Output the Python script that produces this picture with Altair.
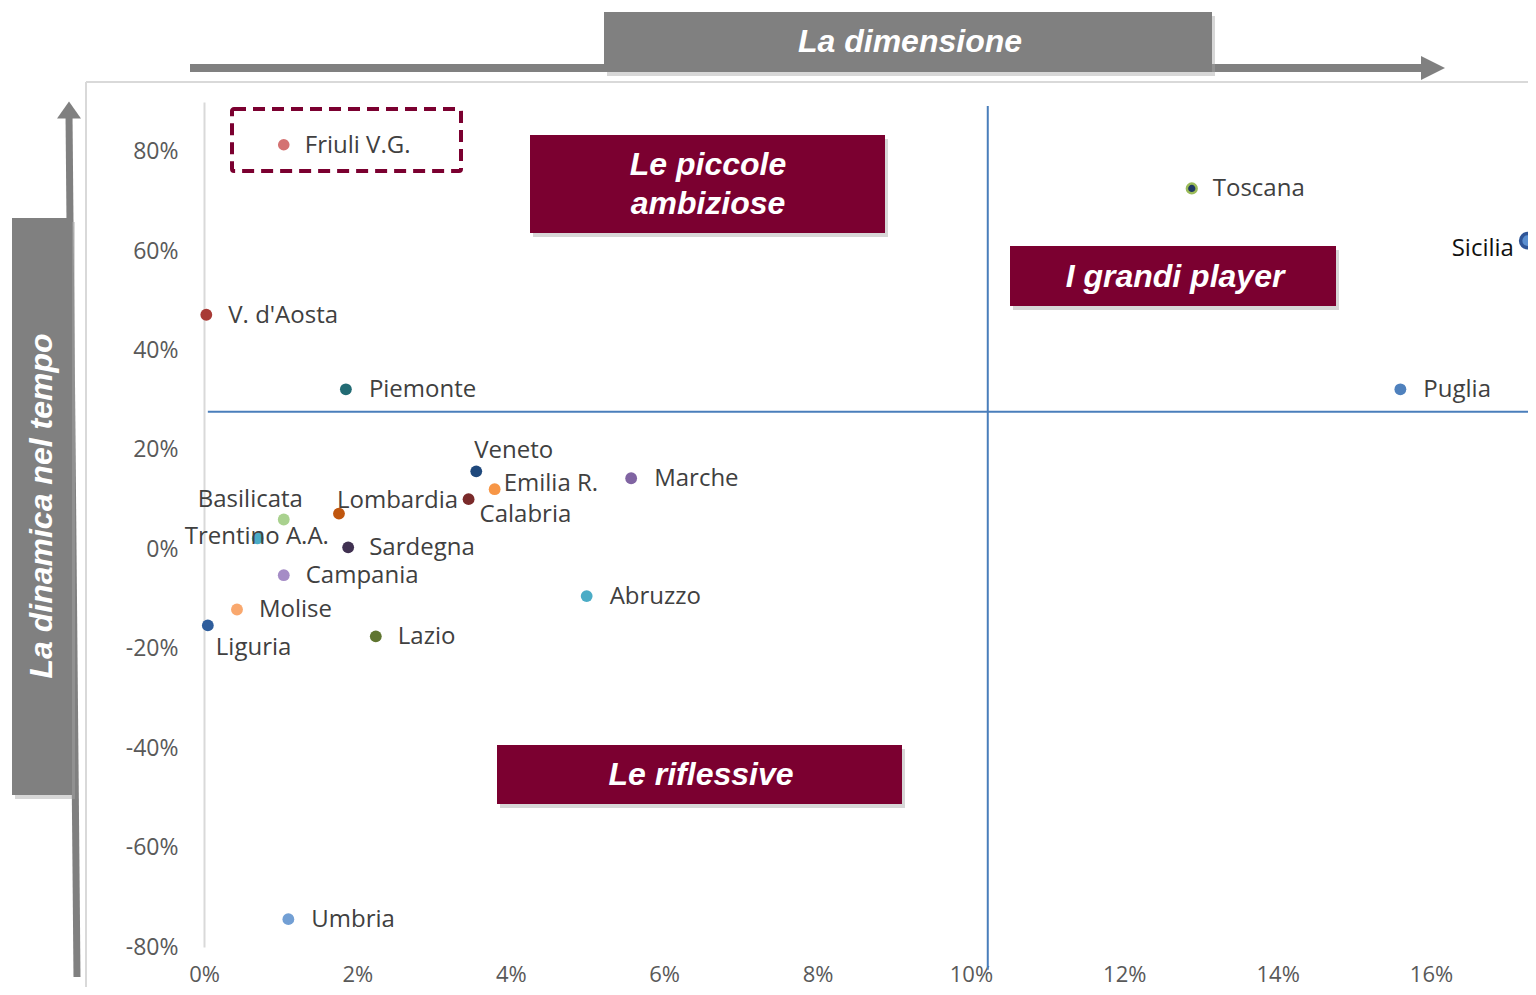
import altair as alt
import pandas as pd

# ---------------- data ----------------
regioni = ["Friuli V.G.", "Toscana", "Sicilia", "V. d'Aosta", "Piemonte", "Puglia", "Veneto",
           "Emilia R.", "Calabria", "Marche", "Lombardia", "Basilicata", "Trentino A.A.",
           "Sardegna", "Campania", "Abruzzo", "Molise", "Liguria", "Lazio", "Umbria"]
dimensione = [0.0104, 0.1288, 0.1726, 0.0003, 0.0185, 0.1560, 0.0355, 0.0379, 0.0345, 0.0557,
              0.0176, 0.0104, 0.0070, 0.0188, 0.0104, 0.0499, 0.0043, 0.0005, 0.0224, 0.0110]
dinamica = [0.814, 0.726, 0.621, 0.472, 0.322, 0.322, 0.157, 0.121, 0.101, 0.143,
            0.072, 0.060, 0.022, 0.004, -0.052, -0.094, -0.121, -0.153, -0.175, -0.744]
x_ticks = [0, 0.02, 0.04, 0.06, 0.08, 0.10, 0.12, 0.14, 0.16]
y_ticks = [-0.8, -0.6, -0.4, -0.2, 0, 0.2, 0.4, 0.6, 0.8]
soglia_dimensione = 0.1022
soglia_dinamica = 0.277
titolo_x = "La dimensione"
titolo_y = "La dinamica nel tempo"
quadranti = ["Le piccole", "ambiziose", "I grandi player", "Le riflessive"]

# ---------------- styles ----------------
fill_colors = ["#d47272", "#1f3864", "#5b8fd0", "#a83a36", "#226b74", "#4f81bd", "#1f487c",
               "#f79646", "#7a2a2a", "#8064a2", "#c0560e", "#a9d18e", "#4bacc6",
               "#403151", "#a58cc6", "#4bacc6", "#f9a86e", "#2e5d9c", "#5f7530", "#729fd4"]
stroke_colors = ["#d47272", "#9bbb59", "#2f5597", "#a83a36", "#226b74", "#4f81bd", "#1f487c",
                 "#f79646", "#7a2a2a", "#8064a2", "#c0560e", "#a9d18e", "#4bacc6",
                 "#403151", "#a58cc6", "#4bacc6", "#f9a86e", "#2e5d9c", "#5f7530", "#729fd4"]
stroke_widths = [0, 2.5, 3.5] + [0] * 17
point_sizes = [135, 95, 200] + [140] * 17
label_colors = ["#404040", "#404040", "#111111"] + ["#404040"] * 17
# label offsets (pixels from point to label's left edge / vertical centre)
label_dx = [21, 21, -76, 22, 23, 23, -2, 9, 11, 23, -2, -86, -73, 21, 22, 23, 22, 8, 22, 23]
label_dy = [1, 1, 8, 1, 1, 1, -20, -5, 16, 1, -13, -20, -1, 1, 1, 1, 1, 23, 1, 1]

W, H = 1324, 845
X_DOMAIN = [0, 1324 / 7669]
Y_DOMAIN = [-0.8, 0.9]
PX_X = W / (X_DOMAIN[1] - X_DOMAIN[0])
PX_Y = H / (Y_DOMAIN[1] - Y_DOMAIN[0])
OX, OY = 204, 102  # plot origin on the page
RIGHT = 1528

MAROON = "#7b0030"
GREY = "#808080"

pts = pd.DataFrame({
    "regione": regioni, "x": dimensione, "y": dinamica,
    "fill": fill_colors, "stroke": stroke_colors, "sw": stroke_widths, "size": point_sizes,
    "lc": label_colors, "ldx": label_dx, "ldy": label_dy,
})

x_axis = alt.Axis(values=x_ticks, labelExpr="round(datum.value*100) + '%'", domain=False,
                  ticks=False, grid=False, labelFont="Open Sans", labelFontSize=22,
                  labelColor="#595959", labelPadding=27, labelBaseline="middle",
                  labelFlush=False, labelOverlap=False, title=None)
y_axis = alt.Axis(values=y_ticks, labelExpr="round(datum.value*100) + '%'", domain=True,
                  domainColor="#d9d9d9", domainWidth=2, ticks=False, grid=False,
                  labelFont="Open Sans", labelFontSize=23, labelColor="#595959",
                  labelPadding=26, labelFlush=False, labelOverlap=False, title=None)
xs = alt.Scale(domain=X_DOMAIN, nice=False, zero=False)
ys = alt.Scale(domain=Y_DOMAIN, nice=False, zero=False)

# ---------------- decorations (page pixels) ----------------
def P(vx, vy):
    return vx - OX, vy - OY

boxes = [
    # x1, x2, y1, y2, fill
    (604, 1212, 12, 72, GREY),
    (12, 72, 218, 795, GREY),
    (530, 885, 135, 233, MAROON),
    (1010, 1336, 246, 306, MAROON),
    (497, 902, 745, 804, MAROON),
]
box_rows, shadow_rows = [], []
for x1, x2, y1, y2, f in boxes:
    a, b = P(x1, y1)
    c, d = P(x2, y2)
    box_rows.append({"px": a, "px2": c, "py": b, "py2": d, "fill": f})
    shadow_rows.append({"px": a + 3, "px2": c + 3, "py": b + 4, "py2": d + 4, "fill": "#a6a6a6"})
box_df = pd.DataFrame(box_rows)
shadow_df = pd.DataFrame(shadow_rows)

lines = [
    # x1, y1, x2, y2, colour, width
    (86, 82, RIGHT, 82, "#d9d9d9", 2),
    (86, 82, 86, 995, "#d9d9d9", 2),
    (190, 68, 1424, 68, GREY, 8),
    (69, 114, 77, 977, GREY, 7),
]
line_df = pd.DataFrame([
    dict(zip(["px", "py"], P(x1, y1))) | dict(zip(["px2", "py2"], P(x2, y2))) | {"col": c, "sw": w}
    for x1, y1, x2, y2, c, w in lines
])

heads = [
    (1433, 68, "M-1,-1L1,0L-1,1Z", 576),
    (69, 110, "M-1,0.7L0,-0.7L1,0.7Z", 576),
]
head_df = pd.DataFrame([
    dict(zip(["px", "py"], P(x, y))) | {"shape": s, "size": z} for x, y, s, z in heads
])

texts = [
    (910, 42, titolo_x, 0),
    (42, 506, titolo_y, 270),
    (708, 165, quadranti[0], 0),
    (708, 204, quadranti[1], 0),
    (1175, 277, quadranti[2], 0),
    (701, 775, quadranti[3], 0),
]
text_df = pd.DataFrame([
    dict(zip(["px", "py"], P(x, y))) | {"t": t, "angle": a} for x, y, t, a in texts
])

dash_df = pd.DataFrame([dict(zip(["px", "py"], P(232, 109))) | dict(zip(["px2", "py2"], P(461, 171)))])

def pxe(name):
    return alt.X(f"{name}:Q", scale=None, axis=None)

def pye(name):
    return alt.Y(f"{name}:Q", scale=None, axis=None)

line_layer = alt.Chart(line_df).mark_rule(strokeCap="butt").encode(
    x=pxe("px"), x2="px2:Q", y=pye("py"), y2="py2:Q",
    color=alt.Color("col:N", scale=None), strokeWidth=alt.StrokeWidth("sw:Q", scale=None))
shadow_layer = alt.Chart(shadow_df).mark_rect(opacity=0.45).encode(
    x=pxe("px"), x2="px2:Q", y=pye("py"), y2="py2:Q", color=alt.Color("fill:N", scale=None))
box_layer = alt.Chart(box_df).mark_rect().encode(
    x=pxe("px"), x2="px2:Q", y=pye("py"), y2="py2:Q", color=alt.Color("fill:N", scale=None))
head_layer = alt.Chart(head_df).mark_point(filled=True, opacity=1, color=GREY).encode(
    x=pxe("px"), y=pye("py"), shape=alt.Shape("shape:N", scale=None),
    size=alt.Size("size:Q", scale=None))
text_layer = alt.Chart(text_df).mark_text(
    font="Liberation Sans", fontSize=32, fontWeight="bold", fontStyle="italic",
    color="white", align="center", baseline="middle").encode(
    x=pxe("px"), y=pye("py"), text="t:N", angle=alt.Angle("angle:Q", scale=None))
dash_layer = alt.Chart(dash_df).mark_rect(
    fillOpacity=0, stroke=MAROON, strokeWidth=4, strokeDash=[12, 7], cornerRadius=2).encode(
    x=pxe("px"), x2="px2:Q", y=pye("py"), y2="py2:Q")

# ---------------- data layers ----------------
quad_df = pd.DataFrame({
    "x": [soglia_dimensione, 0.0005], "x2": [soglia_dimensione, X_DOMAIN[1]],
    "y": [0.892, soglia_dinamica], "y2": [-0.846, soglia_dinamica],
})
quad_layer = alt.Chart(quad_df).mark_rule(color="#4a7ebb", strokeWidth=2).encode(
    x=alt.X("x:Q", scale=xs, axis=x_axis), x2="x2:Q",
    y=alt.Y("y:Q", scale=ys, axis=y_axis), y2="y2:Q")

point_layer = alt.Chart(pts).mark_circle(opacity=1).encode(
    x=alt.X("x:Q", scale=xs, axis=x_axis),
    y=alt.Y("y:Q", scale=ys, axis=y_axis),
    color=alt.Color("fill:N", scale=None),
    stroke=alt.Stroke("stroke:N", scale=None),
    strokeWidth=alt.StrokeWidth("sw:Q", scale=None),
    size=alt.Size("size:Q", scale=None),
)

label_layer = alt.Chart(pts).transform_calculate(
    lx=f"datum.x + datum.ldx / {PX_X}",
    ly=f"datum.y - datum.ldy / {PX_Y}",
).mark_text(font="Open Sans", fontSize=24, align="left", baseline="middle").encode(
    x=alt.X("lx:Q", scale=xs, axis=x_axis),
    y=alt.Y("ly:Q", scale=ys, axis=y_axis),
    text="regione:N",
    color=alt.Color("lc:N", scale=None),
)

chart = alt.layer(
    line_layer, shadow_layer, box_layer, head_layer, text_layer,
    quad_layer, dash_layer, point_layer, label_layer,
).properties(
    width=W, height=H,
    padding={"left": 196, "top": 94, "right": 0, "bottom": 40},
    autosize=alt.AutoSizeParams(type="none"),
    background="white",
).configure_view(stroke=None)

chart.save("out.html", embed_options={"renderer": "svg", "actions": False})
